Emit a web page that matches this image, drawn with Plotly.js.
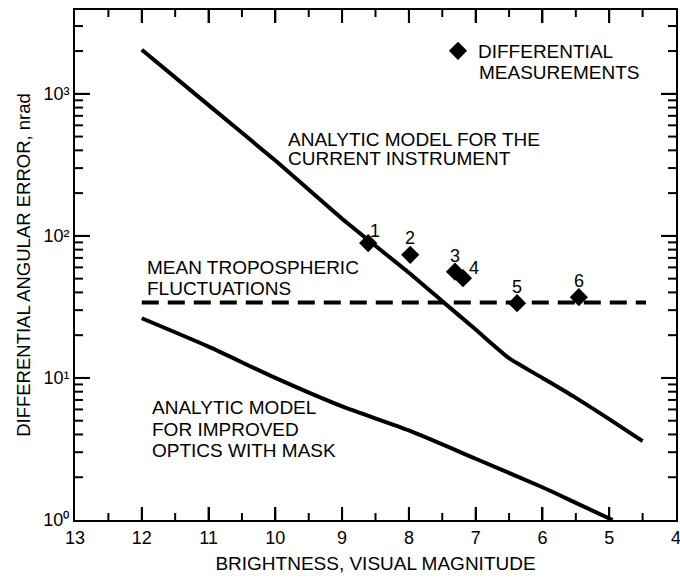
<!DOCTYPE html>
<html>
<head>
<meta charset="utf-8">
<script src="https://cdn.plot.ly/plotly-3.0.1.min.js"></script>
<style>html,body{margin:0;padding:0;background:#fff;}#chart{width:680px;height:580px;}</style>
</head>
<body>
<div id="chart"></div>
<script>
// Analytic model for the current instrument
var currentMag = [12, 11, 10, 9, 8, 7.5, 7, 6.5, 6, 5.5, 5, 4.5];
var currentErr = [2042, 832, 339, 132, 55, 34.7, 21.9, 13.8, 10, 7.24, 5.13, 3.59];
// Analytic model for improved optics with mask
var improvedMag = [12, 11, 10, 9, 8, 7, 6, 5.5, 4.95];
var improvedErr = [26.3, 16.6, 10, 6.3, 4.27, 2.7, 1.7, 1.32, 1.0];
// Mean tropospheric fluctuations
var tropoMag = [12, 4.45];
var tropoErr = [34, 34];
// Differential measurements
var measMag = [8.61, 7.98, 7.31, 7.19, 6.38, 5.455];
var measErr = [89, 73.5, 56, 50.4, 33.6, 37];
var measLabels = ['1', '2', '3', '4', '5', '6'];
// Axis ticks
var xMajorTicks = [12, 11, 10, 9, 8, 7, 6, 5];
var xMinorTicks = [12.5, 11.5, 10.5, 9.5, 8.5, 7.5, 6.5, 5.5, 4.5];
var yTickVals = [1, 10, 100, 1000];
var yTickText = ['10\u2070', '10\u00B9', '10\u00B2', '10\u00B3'];
var yMinorTicks = [2, 3, 4, 5, 6, 7, 8, 9, 20, 30, 40, 50, 60, 70, 80, 90,
                   200, 300, 400, 500, 600, 700, 800, 900, 2000, 3000];

var FONT = 'Liberation Sans, Arial, Helvetica, sans-serif';
var Y_DECADES = 3.59;
var PLOT_W = 601, PLOT_H = 510;

// label offsets (px) for the numbered measurements
var labelShiftX = [7, 0, 0, 11, 0, 0];
var labelShiftY = [12, 17, 16, 10, 16, 16];

var traces = [
  {x: currentMag, y: currentErr, mode: 'lines', line: {color: '#000', width: 4, shape: 'spline', smoothing: 0.6}, showlegend: false, hoverinfo: 'skip'},
  {x: improvedMag, y: improvedErr, mode: 'lines', line: {color: '#000', width: 4, shape: 'spline', smoothing: 0.6}, showlegend: false, hoverinfo: 'skip'},
  {x: tropoMag, y: tropoErr, mode: 'lines', line: {color: '#000', width: 4, dash: '17px,9px'}, showlegend: false, hoverinfo: 'skip'},
  {x: measMag, y: measErr, mode: 'markers', name: 'DIFFERENTIAL',
   marker: {symbol: 'diamond', size: 14, color: '#000'}, showlegend: true, hoverinfo: 'skip'}
];

function px2paperX(p) { return (p - 75) / PLOT_W; }
function px2paperY(p) { return (520 - p) / PLOT_H; }

var textBlocks = [
  ['MEASUREMENTS', 477, 72],
  ['ANALYTIC MODEL FOR THE', 286, 139],
  ['CURRENT INSTRUMENT', 286, 159],
  ['MEAN TROPOSPHERIC', 145, 267],
  ['FLUCTUATIONS', 145, 288],
  ['ANALYTIC MODEL', 150, 407],
  ['FOR IMPROVED', 150, 429],
  ['OPTICS WITH MASK', 150, 450]
];

var annotations = textBlocks.map(function (t) {
  return {text: t[0], xref: 'paper', yref: 'paper', x: px2paperX(t[1]), y: px2paperY(t[2]),
    xanchor: 'left', yanchor: 'middle', showarrow: false, font: {family: FONT, size: 19, color: '#000'}};
});
measMag.forEach(function (mg, i) {
  annotations.push({text: measLabels[i], x: mg, y: Math.log10(measErr[i]), xref: 'x', yref: 'y',
    xshift: labelShiftX[i], yshift: labelShiftY[i], showarrow: false,
    font: {family: FONT, size: 18, color: '#000'}});
});

// tick marks on all four sides (inside)
var shapes = [];
function tickLine(o) { o.type = 'line'; o.line = {color: '#000', width: 2}; shapes.push(o); }
function xTicks(vals, len) {
  var h = len / PLOT_H;
  vals.forEach(function (v) {
    tickLine({xref: 'x', yref: 'paper', x0: v, x1: v, y0: 0, y1: h});
    tickLine({xref: 'x', yref: 'paper', x0: v, x1: v, y0: 1, y1: 1 - h});
  });
}
function yTicks(vals, len) {
  var w = len / PLOT_W;
  vals.forEach(function (v) {
    var p = Math.log10(v) / Y_DECADES;
    tickLine({xref: 'paper', yref: 'paper', x0: 0, x1: w, y0: p, y1: p});
    tickLine({xref: 'paper', yref: 'paper', x0: 1, x1: 1 - w, y0: p, y1: p});
  });
}
xTicks(xMajorTicks, 13);
xTicks(xMinorTicks, 7);
yTicks(yTickVals.slice(1), 15);
yTicks(yMinorTicks, 8);

var layout = {
  width: 680, height: 580,
  margin: {l: 75, r: 4, t: 10, b: 60},
  font: {family: FONT, color: '#000', size: 18},
  xaxis: {
    range: [13, 4], dtick: 1,
    ticks: 'inside', ticklen: 13, tickwidth: 2, tickcolor: '#000',
    showline: true, linewidth: 2, linecolor: '#000', mirror: 'ticks',
    showgrid: false, zeroline: false, ticklabeloverflow: 'allow',
    tickfont: {family: FONT, size: 18},
    title: {text: 'BRIGHTNESS, VISUAL MAGNITUDE', font: {family: FONT, size: 19}, standoff: 10}
  },
  yaxis: {
    type: 'log', range: [0, Y_DECADES], tickmode: 'array', tickvals: yTickVals, ticktext: yTickText,
    ticks: 'inside', ticklen: 15, tickwidth: 2, tickcolor: '#000',
    showline: true, linewidth: 2, linecolor: '#000', mirror: 'ticks',
    showgrid: false, zeroline: false,
    tickfont: {family: FONT, size: 18},
    title: {text: 'DIFFERENTIAL ANGULAR ERROR, nrad', font: {family: FONT, size: 18.5}, standoff: 8}
  },
  legend: {x: px2paperX(438), y: px2paperY(32), xanchor: 'left', yanchor: 'top',
    bgcolor: 'rgba(0,0,0,0)', font: {family: FONT, size: 19, color: '#000'}},
  annotations: annotations,
  shapes: shapes,
  showlegend: true
};

Plotly.newPlot('chart', traces, layout, {staticPlot: true});
</script>
</body>
</html>
